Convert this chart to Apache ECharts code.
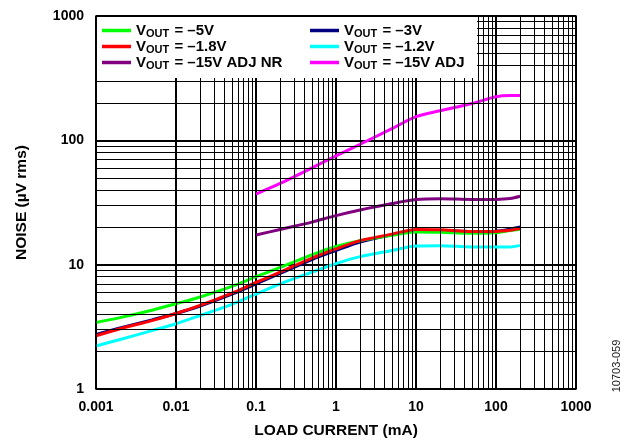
<!DOCTYPE html>
<html><head><meta charset="utf-8">
<script src="https://cdn.jsdelivr.net/npm/echarts@6/dist/echarts.min.js"></script>
<style>html,body{margin:0;padding:0;background:#fff}#c{width:626px;height:444px}</style>
</head><body><div id="c"></div>
<script>
// ---- data ----
const loadCurrent = [0.001,0.002,0.005,0.01,0.02,0.05,0.1,0.2,0.5,1,2,5,10,20,50,100,150,200];
const vout5   = [3.43,3.75,4.3,4.85,5.5,6.7,8.0,9.5,12.0,14.0,15.6,17.2,18.3,18.2,17.9,18.1,18.8,19.3];
const vout3   = [2.75,3.1,3.6,4.05,4.65,5.8,7.0,8.5,11.0,13.0,15.2,17.4,18.8,18.8,18.5,18.6,19.3,20.1];
const vout18  = [2.68,3.05,3.55,4.05,4.7,5.9,7.2,8.7,11.3,13.4,15.6,17.6,19.2,19.1,18.5,18.5,18.9,19.5];
const vout12  = [2.22,2.5,2.95,3.35,3.9,4.8,5.8,7.0,8.7,10.2,11.6,13.0,14.1,14.2,13.9,13.9,13.9,14.3];
const adjCurrent = [0.1,0.2,0.5,1,2,5,10,20,50,100,150,200];
const adjNR   = [17.3,19.2,22,24.8,27.5,31,33.4,33.9,33.5,33.5,34,35.5];
const adj     = [37,45,60,75,93,124,155,173,198,224,229,229];
const seriesNames = ['= \u20135V','= \u20133V','= \u20131.8V','= \u20131.2V','= \u201315V ADJ NR','= \u201315V ADJ'];
const xTickLabels = ['0.001','0.01','0.1','1','10','100','1000'];
const yTickLabels = ['1','10','100','1000'];
const xMinor = [];
[0.001,0.01,0.1,1,10,100].forEach(d=>{for(let k=2;k<=9;k++) xMinor.push(+(d*k).toPrecision(3));});
const yMinor = [];
[1,10,100].forEach(d=>{for(let k=2;k<=9;k++) yMinor.push(d*k);});

const colors = ['#00ff00','#000080','#ff0000','#00ffff','#800080','#ff00ff'];
const F = 'Liberation Sans, Arial, sans-serif';
function pairs(xs, ys){ return xs.map((x,i)=>[x, ys[i]]); }
const dataSets = [pairs(loadCurrent,vout5),pairs(loadCurrent,vout3),pairs(loadCurrent,vout18),pairs(loadCurrent,vout12),pairs(adjCurrent,adjNR),pairs(adjCurrent,adj)];
const drawOrder = [4,5,3,1,0,2];

const series = [{
  type:'line', data:[], z:1, silent:true,
  markLine:{silent:true, symbol:['none','none'], label:{show:false}, animation:false,
    lineStyle:{color:'#000', width:1, type:'solid'},
    data: xMinor.map(v=>({xAxis:v})).concat(yMinor.map(v=>({yAxis:v})))}
}];
drawOrder.forEach(i=>{
  series.push({name:seriesNames[i], type:'line', data:dataSets[i], smooth:0.3, showSymbol:false, symbol:'none',
    z:3, lineStyle:{color:colors[i], width:3}, itemStyle:{color:colors[i]}});
});

const rich = {a:{fontFamily:F,fontSize:15,fontWeight:'bold',color:'#000',lineHeight:17,verticalAlign:'middle'},
              s:{fontFamily:F,fontSize:11,fontWeight:'bold',color:'#000',lineHeight:17,verticalAlign:'bottom',padding:[0,1,0,0]}};
const fmt = n => '{a|V}{s|OUT}{a| ' + n + '}';
const legendBase = {orient:'vertical', icon:'rect', itemWidth:29, itemHeight:3.5, itemGap:0, z:20,
  textStyle:{rich:rich}, formatter:fmt, padding:0, selectedMode:false};

const chart = echarts.init(document.getElementById('c'), null, {renderer:'canvas'});
chart.setOption({
  animation:false,
  backgroundColor:'#fff',
  grid:{left:96, right:50, top:16, bottom:54, show:true, borderColor:'#000', borderWidth:1.5, backgroundColor:'transparent', z:6},
  xAxis:{type:'log', logBase:10, min:0.001, max:1000,
    axisLine:{show:false}, axisTick:{show:false},
    splitLine:{show:true, lineStyle:{color:'#000', width:2}},
    axisLabel:{fontFamily:F, fontSize:14, fontWeight:'bold', color:'#000', margin:11,
      formatter:v=>xTickLabels[Math.round(Math.log10(v))+3]},
    name:'LOAD CURRENT (mA)', nameLocation:'middle', nameGap:34,
    nameTextStyle:{fontFamily:F, fontSize:15.5, fontWeight:'bold', color:'#000'}},
  yAxis:{type:'log', logBase:10, min:1, max:1000,
    axisLine:{show:false}, axisTick:{show:false},
    splitLine:{show:true, lineStyle:{color:'#000', width:2}},
    axisLabel:{fontFamily:F, fontSize:14, fontWeight:'bold', color:'#000', margin:12,
      formatter:v=>yTickLabels[Math.round(Math.log10(v))]},
    name:'NOISE (\u00b5V rms)', nameLocation:'middle', nameGap:66,
    nameTextStyle:{fontFamily:F, fontSize:15.5, fontWeight:'bold', color:'#000'}},
  graphic:[
    {type:'rect', shape:{x:97, y:17, width:380, height:61}, style:{fill:'#fff'}, z:10, silent:true},
    {type:'text', x:617, y:366, rotation:Math.PI/2, style:{text:'10703-059', fontFamily:F, fontSize:11, fill:'#222', align:'center', verticalAlign:'middle'}, z:10}
  ],
  legend:[
    Object.assign({}, legendBase, {left:102, top:23, data:[seriesNames[0],seriesNames[2],seriesNames[4]]}),
    Object.assign({}, legendBase, {left:310, top:23, data:[seriesNames[1],seriesNames[3],seriesNames[5]]})
  ],
  series: series
});
</script></body></html>
